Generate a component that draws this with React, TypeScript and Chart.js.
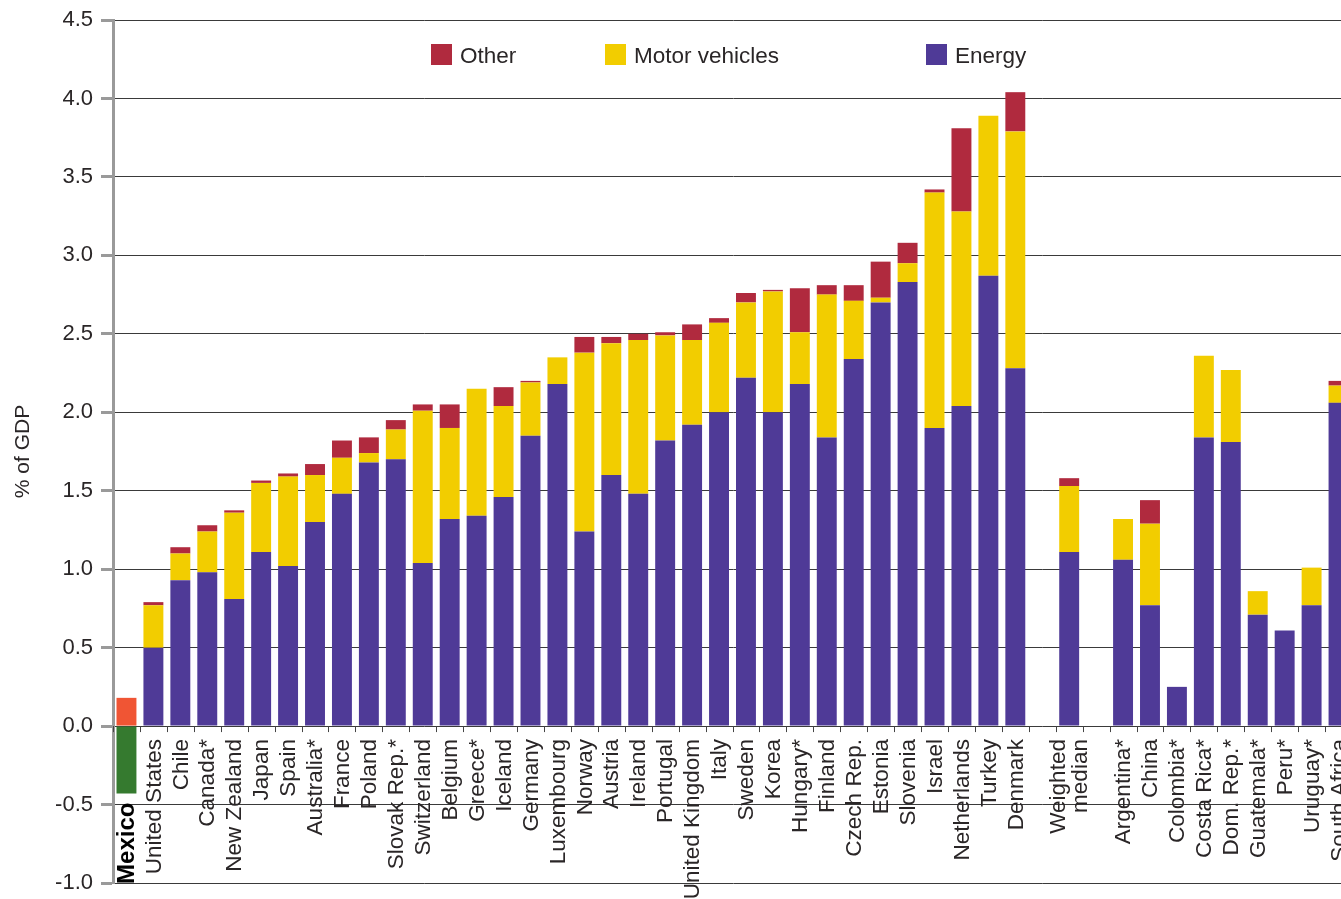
import React, { useEffect, useRef } from 'react';
import { Chart, registerables } from 'chart.js';
Chart.register(...registerables);

const categories: (string | string[])[] = [
  'Mexico', 'United States', 'Chile', 'Canada*', 'New Zealand', 'Japan', 'Spain', 'Australia*', 'France', 'Poland',
  'Slovak Rep.*', 'Switzerland', 'Belgium', 'Greece*', 'Iceland', 'Germany', 'Luxembourg', 'Norway', 'Austria', 'Ireland',
  'Portugal', 'United Kingdom', 'Italy', 'Sweden', 'Korea', 'Hungary*', 'Finland', 'Czech Rep.', 'Estonia', 'Slovenia',
  'Israel', 'Netherlands', 'Turkey', 'Denmark', '', ['Weighted', 'median'], '', 'Argentina*', 'China', 'Colombia*',
  'Costa Rica*', 'Dom. Rep.*', 'Guatemala*', 'Peru*', 'Uruguay*', 'South Africa',
];

const energy = [
  null, 0.50, 0.93, 0.98, 0.81, 1.11, 1.02, 1.30, 1.48, 1.68,
  1.70, 1.04, 1.32, 1.34, 1.46, 1.85, 2.18, 1.24, 1.60, 1.48,
  1.82, 1.92, 2.00, 2.22, 2.00, 2.18, 1.84, 2.34, 2.70, 2.83,
  1.90, 2.04, 2.87, 2.28, null, 1.11, null, 1.06, 0.77, 0.25,
  1.84, 1.81, 0.71, 0.61, 0.77, 2.06,
];

const motorVehicles = [
  null, 0.27, 0.17, 0.26, 0.55, 0.44, 0.57, 0.30, 0.23, 0.06,
  0.19, 0.97, 0.58, 0.81, 0.58, 0.34, 0.17, 1.14, 0.84, 0.98,
  0.67, 0.54, 0.57, 0.48, 0.77, 0.33, 0.91, 0.37, 0.03, 0.12,
  1.50, 1.24, 1.02, 1.51, null, 0.42, null, 0.26, 0.52, null,
  0.52, 0.46, 0.15, null, 0.24, 0.11,
];

const other = [
  null, 0.02, 0.04, 0.04, 0.015, 0.015, 0.02, 0.07, 0.11, 0.10,
  0.06, 0.04, 0.15, null, 0.12, 0.01, null, 0.10, 0.04, 0.04,
  0.02, 0.10, 0.03, 0.06, 0.01, 0.28, 0.06, 0.10, 0.23, 0.13,
  0.02, 0.53, null, 0.25, null, 0.05, null, null, 0.15, null,
  null, null, null, null, null, 0.03,
];

const mexicoPositive = [0.18, ...new Array(45).fill(null)];
const mexicoNegative = [-0.43, ...new Array(45).fill(null)];

const yTicks = { min: -1, max: 4.5, step: 0.5 };
const yTitle = '% of GDP';

const legendItems = [
  { label: 'Other', color: '#b02a3e' },
  { label: 'Motor vehicles', color: '#f2cd00' },
  { label: 'Energy', color: '#4f3a97' },
];

const COLORS = {
  energy: '#4f3a97',
  motor: '#f2cd00',
  other: '#b02a3e',
  mexPos: '#f05534',
  mexNeg: '#357a2f',
};

const FONT = '"Liberation Sans", Arial, sans-serif';
const TEXT = '#2a2627';

export default function App() {
  const ref = useRef<HTMLCanvasElement>(null);

  useEffect(() => {
    document.body.style.margin = '0';
    const canvas = ref.current;
    if (!canvas) return;

    const legendX = [431, 605, 926];

    const customPlugin = {
      id: 'customDraw',
      afterDraw(chart: any) {
        const ctx = chart.ctx as CanvasRenderingContext2D;
        const xs = chart.scales.x;
        const ys = chart.scales.y;
        const y0 = ys.getPixelForValue(0);
        const slot = xs.getPixelForValue(1) - xs.getPixelForValue(0);
        ctx.save();
        // x tick marks at category boundaries
        ctx.strokeStyle = '#444';
        ctx.lineWidth = 1;
        for (let i = 0; i <= categories.length; i++) {
          const px = Math.round(xs.getPixelForValue(i) - slot / 2) + 0.5;
          ctx.beginPath();
          ctx.moveTo(px, y0);
          ctx.lineTo(px, y0 + 6);
          ctx.stroke();
        }
        // x labels
        ctx.fillStyle = TEXT;
        ctx.textAlign = 'right';
        ctx.textBaseline = 'middle';
        categories.forEach((lab, i) => {
          if (!lab || (Array.isArray(lab) && lab.length === 0)) return;
          const cx = xs.getPixelForValue(i);
          let top = y0 + 13;
          let font = `22.5px ${FONT}`;
          if (i === 0) {
            top = ys.getPixelForValue(mexicoNegative[0] as number) + 9;
            font = `bold 24px ${FONT}`;
            ctx.fillStyle = '#000';
          } else {
            ctx.fillStyle = TEXT;
          }
          const lines = Array.isArray(lab) ? lab : [lab];
          const lh = 22;
          lines.forEach((line, j) => {
            const off = (j - (lines.length - 1) / 2) * lh;
            ctx.save();
            ctx.translate(cx + off + 1, top);
            ctx.rotate(-Math.PI / 2);
            ctx.font = font;
            ctx.fillText(line, 0, 0);
            ctx.restore();
          });
        });
        // legend
        ctx.textAlign = 'left';
        ctx.textBaseline = 'middle';
        ctx.font = `22.5px ${FONT}`;
        legendItems.forEach((it, k) => {
          const lx = legendX[k];
          ctx.fillStyle = it.color;
          ctx.fillRect(lx, 44, 21, 21);
          ctx.fillStyle = TEXT;
          ctx.fillText(it.label, lx + 29, 57);
        });
        ctx.restore();
      },
    };

    const chart = new Chart(canvas, {
      type: 'bar',
      data: {
        labels: categories.map((c) => (Array.isArray(c) ? c.join(' ') : c)),
        datasets: [
          { label: 'Energy', data: energy, backgroundColor: COLORS.energy },
          { label: 'Motor vehicles', data: motorVehicles, backgroundColor: COLORS.motor },
          { label: 'Other', data: other, backgroundColor: COLORS.other },
          { label: 'Mexico +', data: mexicoPositive, backgroundColor: COLORS.mexPos },
          { label: 'Mexico -', data: mexicoNegative, backgroundColor: COLORS.mexNeg },
        ] as any,
      },
      options: {
        responsive: false,
        animation: false,
        maintainAspectRatio: false,
        layout: { padding: { left: 0, right: 8, top: 20, bottom: 16 } },
        datasets: {
          bar: { barPercentage: 0.74, categoryPercentage: 1.0 },
        } as any,
        plugins: {
          legend: { display: false },
          tooltip: { enabled: false },
        },
        scales: {
          x: {
            stacked: true,
            display: false,
            grid: { display: false },
          },
          y: {
            stacked: true,
            min: yTicks.min,
            max: yTicks.max,
            afterFit: (scale: any) => {
              scale.width = 113;
              scale.paddingTop = 0;
              scale.paddingBottom = 0;
            },
            ticks: {
              stepSize: yTicks.step,
              callback: (v: any) => Number(v).toFixed(1),
              font: { family: FONT, size: 22 },
              color: TEXT,
              padding: 8,
            },
            grid: {
              color: '#3a3a3a',
              lineWidth: 1,
              tickColor: '#9a9a9a',
              tickWidth: 3,
              tickLength: 12,
            },
            border: { color: '#9a9a9a', width: 3 },
            title: {
              display: true,
              text: yTitle,
              font: { family: FONT, size: 21 },
              color: TEXT,
              padding: { top: 11, bottom: 0 },
            },
          },
        },
      },
      plugins: [customPlugin],
    });

    return () => chart.destroy();
  }, []);

  return (
    <div style={{ position: 'fixed', left: 0, top: 0, width: 1341, height: 899, overflow: 'hidden', background: '#fff' }}>
      <canvas ref={ref} width={1360} height={899} style={{ display: 'block', width: 1360, height: 899 }} />
    </div>
  );
}
